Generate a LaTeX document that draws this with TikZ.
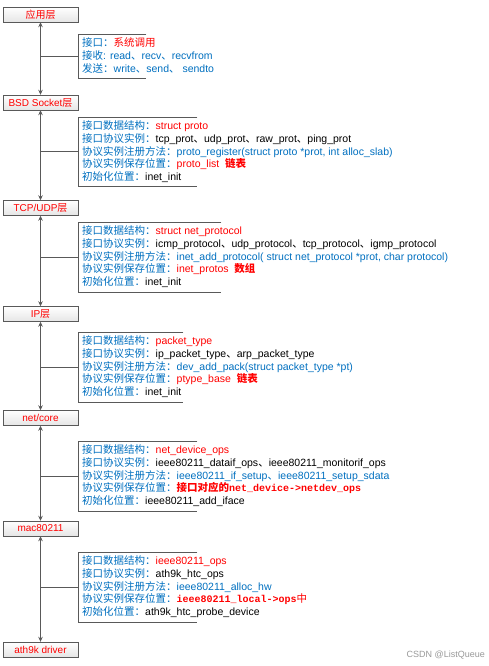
\documentclass[tikz,border=0pt]{standalone}
\usepackage{fontspec}
\setmainfont{Liberation Sans}
\setmonofont{Liberation Mono}
\newfontfamily\cjk{Noto Sans CJK SC}
\usetikzlibrary{arrows.meta}

\definecolor{ifblue}{HTML}{0070C0}
\definecolor{ifred}{HTML}{FF0000}
\definecolor{edgegray}{HTML}{595959}

% label in blue, value in red, chinese text, code in mono
\newcommand{\lb}[1]{\textcolor{ifblue}{\cjk #1}}
\newcommand{\rv}[1]{\textcolor{ifred}{#1}}
\newcommand{\zh}[1]{{\cjk #1}}
\newcommand{\mono}[1]{{\fontsize{10}{12.75}\selectfont\bfseries\ttfamily #1}}

\begin{document}
\begin{tikzpicture}[x=1pt,y=-1pt,
    layer/.style={draw=edgegray, top color=white, bottom color=black!10,
        minimum width=75, minimum height=15, inner sep=0, text=ifred,
        font=\fontsize{10}{12}\selectfont},
    bracket/.style={minimum width=#1, inner sep=0, anchor=north west},
    info/.style={anchor=north west, inner sep=0, align=left,
        font=\fontsize{10.5}{12.75}\selectfont},
    link/.style={edgegray, line width=0.8pt,
        {Stealth[length=5pt,width=4.5pt]}-{Stealth[length=5pt,width=4.5pt]}},
    tie/.style={edgegray, line width=0.6pt}]
    \fill[white] (0,0) rectangle (489,666);
    \useasboundingbox (0,0) rectangle (489,666);

    % Layers
    \node[layer] (app) at (40.5,14.5) {\zh{应用层}};
    \node[layer] (bsd) at (40.5,102.5) {BSD Socket\zh{层}};
    \node[layer] (tcpudp) at (40.5,208) {TCP/UDP\zh{层}};
    \node[layer] (ip) at (40.5,314) {IP\zh{层}};
    \node[layer] (netcore) at (40.5,418) {net/core};
    \node[layer] (mac) at (40.5,528.5) {mac80211};
    \node[layer] (ath) at (40.5,649.5) {ath9k driver};

    \draw[link] (app) -- (bsd);
    \draw[link] (bsd) -- (tcpudp);
    \draw[link] (tcpudp) -- (ip);
    \draw[link] (ip) -- (netcore);
    \draw[link] (netcore) -- (mac);
    \draw[link] (mac) -- (ath);

    % Interface brackets
    \node[bracket=68, minimum height=44] (b1) at (78,34) {};
    \node[bracket=119, minimum height=69] (b2) at (78,117) {};
    \node[bracket=143, minimum height=70] (b3) at (78,222) {};
    \node[bracket=105, minimum height=70] (b4) at (78,332) {};
    \node[bracket=119, minimum height=70] (b5) at (78,441) {};
    \node[bracket=119, minimum height=70] (b6) at (78,552) {};

    \foreach \b in {b1,b2,b3,b4,b5,b6}
        \draw[tie] (\b.north east) -- (\b.north west) -- (\b.south west) -- (\b.south east);

    \draw[tie] (app |- b1.west) -- (b1.west);
    \draw[tie] (bsd |- b2.west) -- (b2.west);
    \draw[tie] (tcpudp |- b3.west) -- (b3.west);
    \draw[tie] (ip |- b4.west) -- (b4.west);
    \draw[tie] (netcore |- b5.west) -- (b5.west);
    \draw[tie] (mac |- b6.west) -- (b6.west);

    % Texts
    \node[info, font=\fontsize{10.5}{13}\selectfont] (t1) at ([shift={(4,3.5)}]b1.north west) {%
        \lb{接口：}\rv{\zh{系统调用}}\\
        \textcolor{ifblue}{\zh{接收}: read\zh{、}recv\zh{、}recvfrom}\\
        \textcolor{ifblue}{\zh{发送：}write\zh{、}send\zh{、} sendto}};

    \node[info] (t2) at ([shift={(4,3.5)}]b2.north west) {%
        \lb{接口数据结构：}\rv{struct proto}\\
        \lb{接口协议实例：}tcp\_prot\zh{、}udp\_prot\zh{、}raw\_prot\zh{、}ping\_prot\\
        \lb{协议实例注册方法：}\textcolor{ifblue}{proto\_register(struct proto *prot, int alloc\_slab)}\\
        \lb{协议实例保存位置：}\rv{proto\_list \ \zh{\bfseries 链表}}\\
        \lb{初始化位置：}inet\_init};

    \node[info] (t3) at ([shift={(4,3.5)}]b3.north west) {%
        \lb{接口数据结构：}\rv{struct net\_protocol}\\
        \lb{接口协议实例：}icmp\_protocol\zh{、}udp\_protocol\zh{、}tcp\_protocol\zh{、}igmp\_protocol\\
        \lb{协议实例注册方法：}\textcolor{ifblue}{inet\_add\_protocol( struct net\_protocol *prot, char protocol)}\\
        \lb{协议实例保存位置：}\rv{inet\_protos \ \zh{\bfseries 数组}}\\
        \lb{初始化位置：}inet\_init};

    \node[info] (t4) at ([shift={(4,3.5)}]b4.north west) {%
        \lb{接口数据结构：}\rv{packet\_type}\\
        \lb{接口协议实例：}ip\_packet\_type\zh{、}arp\_packet\_type\\
        \lb{协议实例注册方法：}\textcolor{ifblue}{dev\_add\_pack(struct packet\_type *pt)}\\
        \lb{协议实例保存位置：}\rv{ptype\_base \ \zh{\bfseries 链表}}\\
        \lb{初始化位置：}inet\_init};

    \node[info] (t5) at ([shift={(4,3.5)}]b5.north west) {%
        \lb{接口数据结构：}\rv{net\_device\_ops}\\
        \lb{接口协议实例：}ieee80211\_dataif\_ops\zh{、}ieee80211\_monitorif\_ops\\
        \lb{协议实例注册方法：}\textcolor{ifblue}{ieee80211\_if\_setup\zh{、}ieee80211\_setup\_sdata}\\
        \lb{协议实例保存位置：}\rv{\zh{\bfseries 接口对应的}\mono{net\_device->netdev\_ops}}\\
        \lb{初始化位置：}ieee80211\_add\_iface};

    \node[info] (t6) at ([shift={(4,3.5)}]b6.north west) {%
        \lb{接口数据结构：}\rv{ieee80211\_ops}\\
        \lb{接口协议实例：}ath9k\_htc\_ops\\
        \lb{协议实例注册方法：}\textcolor{ifblue}{ieee80211\_alloc\_hw}\\
        \lb{协议实例保存位置：}\rv{\mono{ieee80211\_local->ops}\zh{中}}\\
        \lb{初始化位置：}ath9k\_htc\_probe\_device};

    \node[anchor=base east, inner sep=0, text=black!40,
        font=\fontsize{9}{9}\selectfont] (mark) at (485,657) {CSDN @ListQueue};
\end{tikzpicture}
\end{document}
